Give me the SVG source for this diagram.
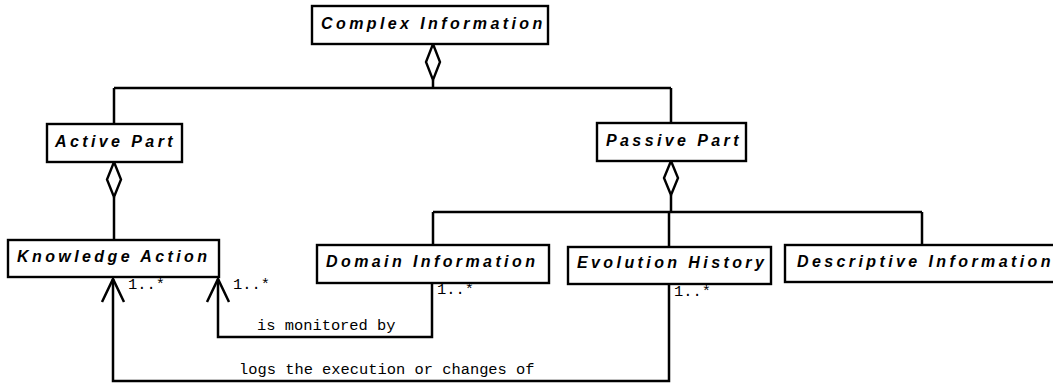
<svg xmlns="http://www.w3.org/2000/svg" width="1053" height="383" viewBox="0 0 1053 383">
  <style>
    .box { fill: #fff; stroke: #000; stroke-width: 2.4; }
    .name { font-family: "Liberation Sans", Arial, sans-serif; font-size: 16px; font-weight: bold; font-style: italic; letter-spacing: 3.4px; fill: #000; }
    .line { fill: none; stroke: #000; stroke-width: 2.5; }
    .head { fill: none; stroke: #000; stroke-width: 2.5; stroke-linejoin: miter; }
    .diamond { fill: #fff; stroke: #000; stroke-width: 2.4; }
    .lbl { font-family: "Liberation Mono", "Courier New", monospace; font-size: 15.4px; fill: #000; }
  </style>

  <!-- connectors -->
  <g id="connectors">
    <!-- aggregation: Complex Information -> parts -->
    <path class="line" d="M433,80 L433,88 M114,88 L671,88 M114,88 L114,124 M671,88 L671,123"/>
    <path class="diamond" d="M433,44 L440,62 L433,80 L426,62 Z"/>
    <!-- aggregation: Active Part -> Knowledge Action -->
    <path class="line" d="M114,197 L114,240"/>
    <path class="diamond" d="M114,162 L121,179.5 L114,197 L107,179.5 Z"/>
    <!-- aggregation: Passive Part -> passive elements -->
    <path class="line" d="M671,195 L671,212 M433,212 L922,212 M433,212 L433,245 M669,212 L669,247 M922,212 L922,244"/>
    <path class="diamond" d="M671,161 L678,178 L671,195 L664,178 Z"/>
    <!-- associations with open arrowheads -->
    <path class="line" d="M432,283 L432,337 L218,337 L218,279"/>
    <path class="head" d="M207,302 L218,279 L229,302"/>
    <path class="line" d="M669,284 L669,381 L113,381 L113,279"/>
    <path class="head" d="M102,302 L113,279 L124,302"/>
    <text class="lbl" x="257" y="330">is monitored by</text>
    <text class="lbl" x="239" y="374">logs the execution or changes of</text>
    <text class="lbl" x="128" y="289">1..*</text>
    <text class="lbl" x="233" y="289">1..*</text>
    <text class="lbl" x="437" y="294">1..*</text>
    <text class="lbl" x="674" y="296">1..*</text>
  </g>

  <g id="complex-information">
    <rect class="box" x="312" y="6" width="236" height="38"/>
    <text class="name" x="321" y="29">Complex Information</text>
  </g>
  <g id="active-part">
    <rect class="box" x="47" y="124" width="135" height="38"/>
    <text class="name" x="55" y="147">Active Part</text>
  </g>
  <g id="passive-part">
    <rect class="box" x="597" y="123" width="149" height="38"/>
    <text class="name" x="606" y="146">Passive Part</text>
  </g>
  <g id="knowledge-action">
    <rect class="box" x="8" y="240" width="211" height="37"/>
    <text class="name" x="17" y="262">Knowledge Action</text>
  </g>
  <g id="domain-information">
    <rect class="box" x="317" y="245" width="232" height="38"/>
    <text class="name" x="326" y="267">Domain Information</text>
  </g>
  <g id="evolution-history">
    <rect class="box" x="568" y="247" width="203" height="37"/>
    <text class="name" x="577" y="268">Evolution History</text>
  </g>
  <g id="descriptive-information">
    <rect class="box" x="785" y="245" width="275" height="37"/>
    <text class="name" x="797" y="267">Descriptive Information</text>
  </g>
</svg>
